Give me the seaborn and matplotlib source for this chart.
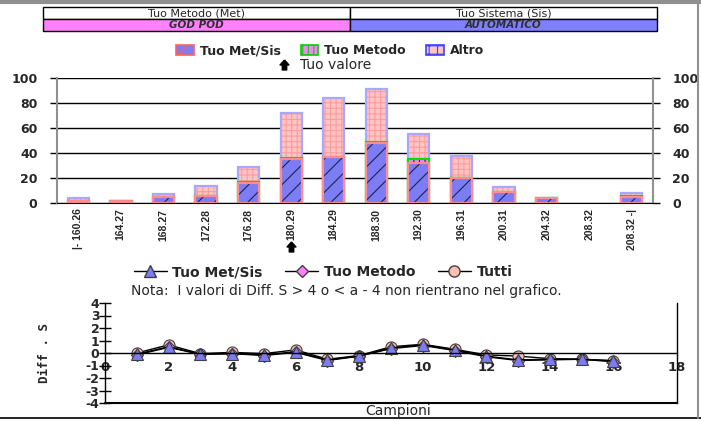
import matplotlib
matplotlib.use("Agg")
import matplotlib.pyplot as plt
import matplotlib.transforms as mtransforms
from matplotlib.patches import Rectangle, Patch
from matplotlib.lines import Line2D
from matplotlib.path import Path
import seaborn as sns
import pandas as pd

# --- dati istogramma ---
bin_labels = ["|- 160.26", "164.27", "168.27", "172.28", "176.28", "180.29", "184.29",
              "188.30", "192.30", "196.31", "200.31", "204.32", "208.32", "208.32 -|"]
met_sis = [2, 2, 5, 6, 16, 35, 37, 48, 32, 20, 9, 4, 0, 5]
metodo = [0, 0, 0, 0, 1, 1, 0, 1, 3, 0, 0, 0, 0, 1]
altro = [2, 0, 2, 8, 12, 36, 47, 42, 20, 18, 4, 0, 0, 2]
your_value_bin = "180.29"

# --- dati differenze ---
campioni = list(range(1, 17))
diff_met_sis = [-0.1, 0.5, -0.1, -0.05, -0.15, 0.1, -0.55, -0.25, 0.4, 0.65, 0.25, -0.25, -0.55, -0.5, -0.5, -0.65]
diff_metodo = [-0.15, 0.45, -0.1, -0.05, -0.2, 0.05, -0.6, -0.25, 0.35, 0.6, 0.2, -0.3, -0.6, -0.55, -0.5, -0.7]
diff_tutti = [0.0, 0.65, -0.05, 0.05, -0.05, 0.25, -0.5, -0.2, 0.5, 0.7, 0.3, -0.15, -0.25, -0.45, -0.5, -0.6]

header_top = ["Tuo Metodo (Met)", "Tuo Sistema (Sis)"]
header_bottom = ["GOD POD", "AUTOMATICO"]
header_colors = ["#FF80FF", "#8080FF"]

sns.set_style("white")
plt.rcParams["font.family"] = ["DejaVu Sans"]
plt.rcParams["hatch.linewidth"] = 0.8
plt.rcParams["axes.unicode_minus"] = False

W, H = 701, 421
fig = plt.figure(figsize=(7.01, 4.21), dpi=100)


def fx(px):
    return px / W


def fy(py):
    return 1 - py / H


# cornice
fig.add_artist(Line2D([0, 1], [fy(2), fy(2)], color="#909090", lw=3))
fig.add_artist(Line2D([0, 1], [fy(418), fy(418)], color="black", lw=1.2))
fig.add_artist(Line2D([fx(698), fx(698)], [fy(2), fy(418)], color="#909090", lw=1.5))

# intestazione
x0, xm, x1 = 43, 350, 657
for i, (a, b) in enumerate([(x0, xm), (xm, x1)]):
    fig.add_artist(Rectangle((fx(a), fy(19)), fx(b - a), 12 / H, facecolor="white",
                             edgecolor="black", lw=1, transform=fig.transFigure))
    fig.add_artist(Rectangle((fx(a), fy(31)), fx(b - a), 12 / H, facecolor=header_colors[i],
                             edgecolor="black", lw=1, transform=fig.transFigure))
    fig.text(fx((a + b) / 2), fy(13), header_top[i], ha="center", va="center", fontsize=8)
    fig.text(fx((a + b) / 2), fy(25), header_bottom[i], ha="center", va="center", fontsize=7.5,
             fontweight="bold", fontstyle="italic", color="#303030")

# --- istogramma impilato ---
df = pd.DataFrame({"bin": bin_labels, "met_sis": met_sis, "metodo": metodo, "altro": altro})
df["lvl2"] = df["met_sis"] + df["metodo"]
df["total"] = df["lvl2"] + df["altro"]

ax1 = fig.add_axes([fx(57), fy(203), fx(596), 125 / H])
layers = [
    ("total", "#FFC4C4", "+++", "#FF9C9C", "#A8A8FF"),
    ("lvl2", "#FF80FF", "|||", "#202020", "#00E000"),
    ("met_sis", "#7C7CF4", "//", "#202050", "#FF8C8C"),
]
for col, face, hatch, hcol, outline in layers:
    sns.barplot(data=df, x="bin", y=col, color=face, saturation=1, hatch=hatch,
                edgecolor=hcol, linewidth=0, width=0.5, errorbar=None, ax=ax1)
    sns.barplot(data=df, x="bin", y=col, color=outline, fill=False, saturation=1,
                linewidth=1.6, width=0.5, errorbar=None, ax=ax1)
for p in ax1.patches:
    if p.get_height() == 0:
        p.set_visible(False)

ax1.set_xlim(-0.5, len(bin_labels) - 0.5)
ax1.set_ylim(0, 100)
ax1.set_yticks([0, 20, 40, 60, 80, 100])
ax1.set_xlabel("")
ax1.set_ylabel("")
ax1.yaxis.grid(True, color="black", lw=1)
ax1.set_axisbelow(True)
for s in ["left", "right"]:
    ax1.spines[s].set_color("#909090")
    ax1.spines[s].set_linewidth(1.5)
ax1.spines["top"].set_visible(False)
ax1.spines["bottom"].set_color("black")
ax1.tick_params(axis="y", left=True, right=True, labelleft=True, labelright=True,
                direction="out", length=5, width=1, color="black", labelsize=9, pad=9)
for lab in ax1.get_yticklabels():
    lab.set_fontweight("bold")
ax1.set_xticks(range(len(bin_labels)))
ax1.set_xticklabels(bin_labels, rotation=90, fontsize=7.5, fontweight="bold",
                    family=["Liberation Sans Narrow", "Liberation Sans"])
ax1.set_xticks([i - 0.5 for i in range(len(bin_labels) + 1)], minor=True)
ax1.tick_params(axis="x", which="major", length=0, pad=4)
ax1.tick_params(axis="x", which="minor", length=31, width=1.5, color="#909090", direction="out")

# freccia "Tuo valore"
arrow = Path([(0, 1), (0.8, 0.1), (0.4, 0.1), (0.4, -0.8), (-0.4, -0.8), (-0.4, 0.1), (-0.8, 0.1), (0, 1)])
trans = mtransforms.blended_transform_factory(ax1.transData, ax1.transAxes)
ax1.plot([bin_labels.index(your_value_bin)], [(203 - 247) / 125], marker=arrow, markersize=8,
         color="black", transform=trans, clip_on=False, ls="none")

bar_handles = [
    Patch(facecolor="#7C7CF4", hatch="//", edgecolor="#FF6060", lw=1.2),
    Patch(facecolor="#FF80FF", hatch="|||", edgecolor="#00D000", lw=1.2),
    Patch(facecolor="#FFC4C4", hatch="++", edgecolor="#4040FF", lw=1.2),
]
fig.legend(bar_handles, ["Tuo Met/Sis", "Tuo Metodo", "Altro"], loc="center",
           bbox_to_anchor=(fx(330), fy(51)), ncol=3, frameon=False,
           prop={"weight": "bold", "size": 9}, handlelength=1.4, handleheight=0.9,
           columnspacing=1.6, handletextpad=0.5)
fig.add_artist(Line2D([fx(284)], [fy(65)], marker=arrow, markersize=8, color="black", ls="none"))
fig.text(fx(300), fy(65), "Tuo valore", ha="left", va="center", fontsize=10)

# --- grafico differenze ---
ax2 = fig.add_axes([fx(105), fy(403), fx(572), 100 / H])
series = [
    ("Tutti", diff_tutti, "o", "#FFC0B8", 8),
    ("Tuo Metodo", diff_metodo, "D", "#FF80FF", 6),
    ("Tuo Met/Sis", diff_met_sis, "^", "#7C7CF4", 8.5),
]
for name, vals, mk, col, ms in series:
    sns.lineplot(x=campioni, y=vals, marker=mk, markersize=ms, markerfacecolor=col,
                 markeredgecolor="#404040", markeredgewidth=0.8, color="black", lw=1, ax=ax2)

ax2.set_xlim(0, 18)
ax2.set_ylim(-4, 4)
ax2.set_xticks(range(0, 19, 2))
ax2.set_yticks(range(-4, 5))
ax2.spines["bottom"].set_position(("data", 0))
ax2.spines["top"].set_visible(False)
for s in ["left", "right", "bottom"]:
    ax2.spines[s].set_color("black")
    ax2.spines[s].set_linewidth(1)
ax2.plot([0, 1], [0, 0], transform=ax2.transAxes, color="black", lw=1.5, clip_on=False)
ax2.tick_params(axis="x", direction="inout", length=9, width=1, color="black",
                labelsize=9.5, pad=1)
ax2.tick_params(axis="y", direction="inout", length=8, width=1, color="black",
                labelsize=9, pad=0, left=True)
for lab in ax2.get_xticklabels() + ax2.get_yticklabels():
    lab.set_fontweight("bold")
ax2.set_ylabel("Diff . S", family="DejaVu Sans Mono", fontsize=9, fontweight="bold",
               labelpad=25)
ax2.set_xlabel("")
fig.text(fx(398), fy(411), "Campioni", ha="center", va="center", fontsize=10)
fig.text(fx(131), fy(291), "Nota:  I valori di Diff. S > 4 o < a - 4 non rientrano nel grafico.",
         ha="left", va="center", fontsize=10)

line_handles = [
    Line2D([], [], color="black", lw=1, marker="^", markersize=8.5, markerfacecolor="#7C7CF4", markeredgecolor="#404040"),
    Line2D([], [], color="black", lw=1, marker="D", markersize=6, markerfacecolor="#FF80FF", markeredgecolor="#404040"),
    Line2D([], [], color="black", lw=1, marker="o", markersize=8, markerfacecolor="#FFC0B8", markeredgecolor="#404040"),
]
fig.legend(line_handles, ["Tuo Met/Sis", "Tuo Metodo", "Tutti"], loc="center",
           bbox_to_anchor=(fx(323), fy(272)), ncol=3, frameon=False,
           prop={"weight": "bold", "size": 10}, handlelength=2.4, columnspacing=1.6,
           handletextpad=0.4)

fig.savefig("out.png", dpi=100)
